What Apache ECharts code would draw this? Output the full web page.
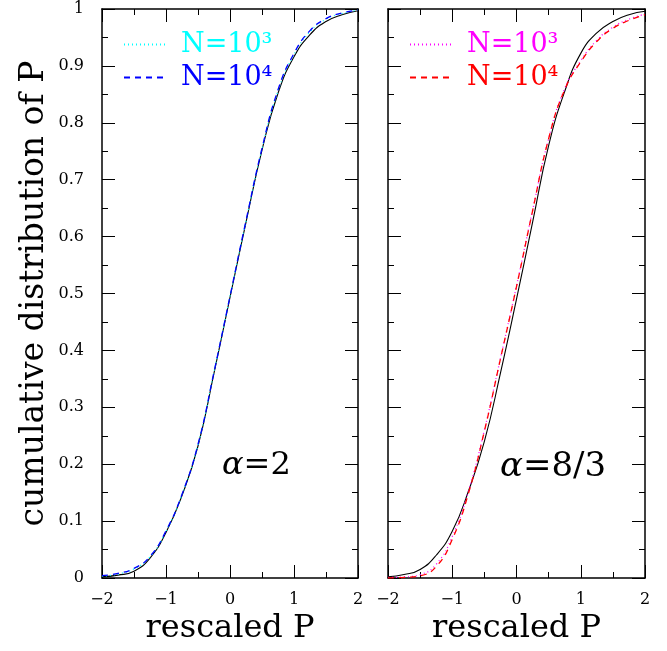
<!DOCTYPE html>
<html>
<head>
<meta charset="utf-8">
<script src="https://cdn.jsdelivr.net/npm/echarts@6/dist/echarts.min.js"></script>
<style>
  html, body { margin: 0; padding: 0; background: #fff; }
  #main { width: 667px; height: 651px; }
</style>
</head>
<body>
<div id="main"></div>
<script>
// rescaled P sample points
var xs = [-2, -1.75, -1.5, -1.25, -1, -0.75, -0.5, -0.25, 0, 0.25, 0.5, 0.75, 1, 1.25, 1.5, 1.75, 2];

// alpha = 2 panel
var leftExact = [0.002, 0.005, 0.012, 0.035, 0.080, 0.145, 0.232, 0.360, 0.493, 0.625, 0.752, 0.852, 0.916, 0.955, 0.978, 0.990, 0.997];
var leftN3    = [0.003, 0.007, 0.016, 0.037, 0.082, 0.146, 0.234, 0.362, 0.495, 0.627, 0.754, 0.856, 0.920, 0.960, 0.982, 0.992, 0.998];
var leftN4    = [0.004, 0.008, 0.017, 0.038, 0.083, 0.147, 0.235, 0.362, 0.495, 0.628, 0.755, 0.858, 0.922, 0.962, 0.983, 0.993, 0.998];

// alpha = 8/3 panel
var rightExact = [0.002, 0.006, 0.015, 0.040, 0.082, 0.152, 0.240, 0.360, 0.490, 0.625, 0.760, 0.855, 0.922, 0.958, 0.978, 0.990, 0.996];
var rightN3    = [0.001, 0.002, 0.006, 0.024, 0.073, 0.152, 0.260, 0.386, 0.513, 0.646, 0.772, 0.860, 0.909, 0.945, 0.968, 0.982, 0.991];
var rightN4    = [0.000, 0.001, 0.004, 0.020, 0.068, 0.148, 0.258, 0.385, 0.512, 0.645, 0.772, 0.858, 0.907, 0.943, 0.966, 0.980, 0.990];

var legendLabels = { L3: 'N=10³', L4: 'N=10⁴', R3: 'N=10³', R4: 'N=10⁴' };

var font = 'DejaVu Serif';

function pairs(ys) {
  return xs.map(function (x, i) { return [x, ys[i]]; });
}

function minus(v) {
  return String(v).replace('-', '\u2212');
}

function makeX(grid, position, showLabel, name) {
  return {
    type: 'value', gridIndex: grid, position: position,
    min: -2, max: 2, interval: 1,
    name: name, nameLocation: 'middle', nameGap: 33,
    nameTextStyle: { fontFamily: font, fontSize: 32, color: '#000' },
    axisLine: { show: true, onZero: false, lineStyle: { color: '#000', width: 1.5 } },
    axisTick: { show: true, inside: true, length: 13, lineStyle: { color: '#000' } },
    minorTick: { show: true, splitNumber: 2, length: 6, lineStyle: { color: '#000' } },
    axisLabel: { show: showLabel, margin: 14, fontFamily: font, fontSize: 16, color: '#000', formatter: minus },
    splitLine: { show: false }
  };
}

function makeY(grid, position, showLabel, name) {
  return {
    type: 'value', gridIndex: grid, position: position,
    min: 0, max: 1, interval: 0.1,
    name: name, nameLocation: 'middle', nameGap: 51, nameRotate: 90,
    nameTextStyle: { fontFamily: font, fontSize: 33, color: '#000' },
    axisLine: { show: true, onZero: false, lineStyle: { color: '#000', width: 1.5 } },
    axisTick: { show: true, inside: true, length: 13, lineStyle: { color: '#000' } },
    minorTick: { show: true, splitNumber: 2, length: 6, lineStyle: { color: '#000' } },
    axisLabel: { show: showLabel, margin: 18, fontFamily: font, fontSize: 16, color: '#000' },
    splitLine: { show: false }
  };
}

function line(name, xi, yi, ys, color, type) {
  return {
    name: name, type: 'line', xAxisIndex: xi, yAxisIndex: yi,
    data: pairs(ys), symbol: 'none', smooth: 0.5,
    lineStyle: { color: color, width: type === 'solid' ? 1.1 : 1.3, type: type },
    itemStyle: { color: color }
  };
}

function makeLegend(left, names, colors) {
  return {
    orient: 'vertical', left: left, top: 26,
    itemWidth: 42, itemHeight: 14, itemGap: 6, selectedMode: false,
    itemStyle: { opacity: 0 },
    data: names.map(function (n, i) { return { name: n, textStyle: { color: colors[i] } }; }),
    formatter: function (n) { return legendLabels[n]; },
    textStyle: { fontFamily: font, fontSize: 27, padding: [0, 0, 0, 10] }
  };
}

var chart = echarts.init(document.getElementById('main'));
var option = {
  animation: false,
  backgroundColor: '#fff',
  grid: [
    { left: 102, top: 9, width: 256, height: 569 },
    { left: 388, top: 9, width: 257, height: 569 }
  ],
  xAxis: [
    makeX(0, 'bottom', true, 'rescaled P'),
    makeX(0, 'top', false),
    makeX(1, 'bottom', true, 'rescaled P'),
    makeX(1, 'top', false)
  ],
  yAxis: [
    makeY(0, 'left', true, 'cumulative distribution of P'),
    makeY(0, 'right', false),
    makeY(1, 'left', false),
    makeY(1, 'right', false)
  ],
  legend: [
    makeLegend(118, ['L3', 'L4'], ['#00ffff', '#0000ff']),
    makeLegend(404, ['R3', 'R4'], ['#ff00ff', '#ff0000'])
  ],
  title: [
    { text: '{a|α}=2', left: 222, top: 450, padding: 0,
      textStyle: { fontFamily: font, fontSize: 32, fontWeight: 'normal', color: '#000',
        rich: { a: { fontFamily: font, fontSize: 32, fontStyle: 'italic', color: '#000' } } } },
    { text: '{a|α}=8/3', left: 500, top: 450, padding: 0,
      textStyle: { fontFamily: font, fontSize: 34, fontWeight: 'normal', color: '#000',
        rich: { a: { fontFamily: font, fontSize: 34, fontStyle: 'italic', color: '#000' } } } }
  ],
  series: [
    line('LE', 0, 0, leftExact, '#000000', 'solid'),
    line('L3', 0, 0, leftN3, '#00ffff', [1, 3]),
    line('L4', 0, 0, leftN4, '#0000ff', [6, 5]),
    line('RE', 2, 2, rightExact, '#000000', 'solid'),
    line('R3', 2, 2, rightN3, '#ff00ff', [1, 3]),
    line('R4', 2, 2, rightN4, '#ff0000', [6, 5])
  ]
};
chart.setOption(option);
</script>
</body>
</html>
